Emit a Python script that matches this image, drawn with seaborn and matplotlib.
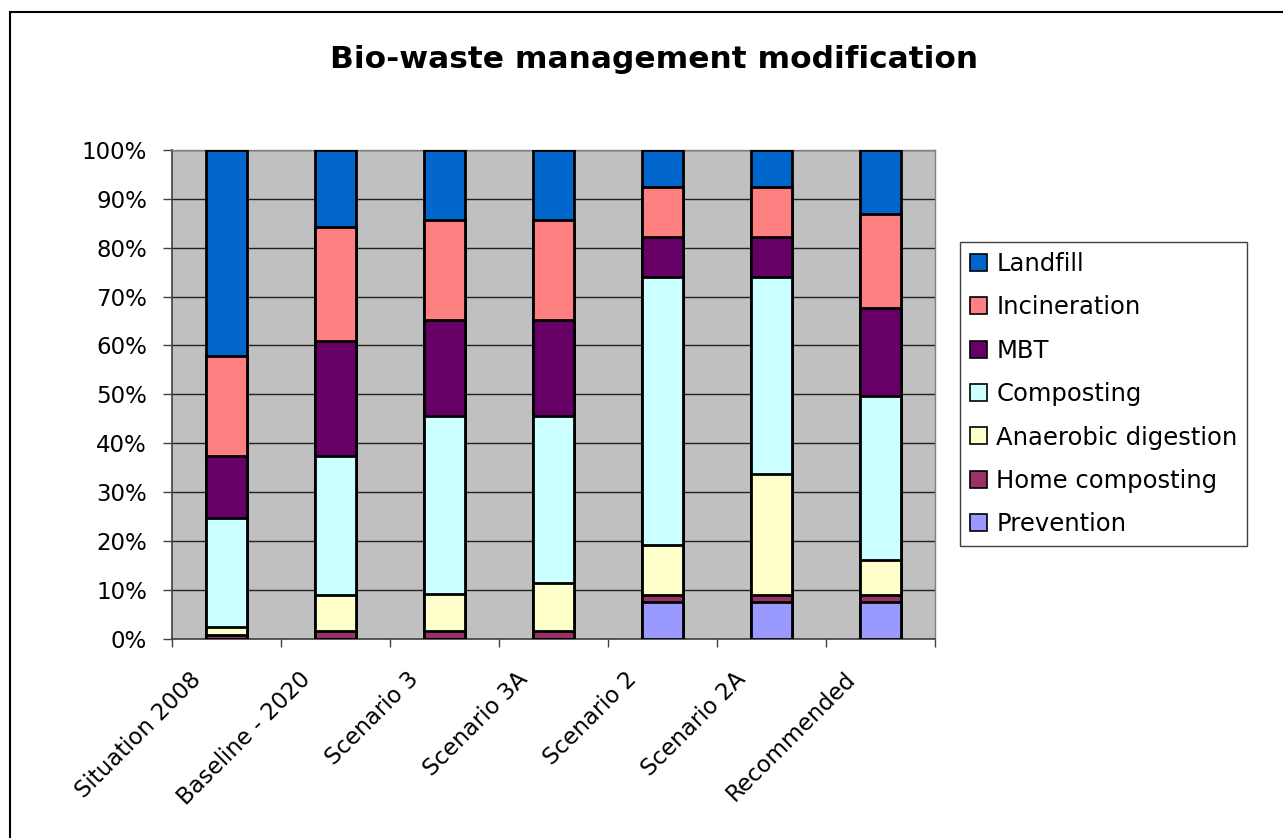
import numpy as np
import pandas as pd
import matplotlib; matplotlib.use('Agg')
import matplotlib.pyplot as plt
import matplotlib.patches as mpatches
from matplotlib.ticker import PercentFormatter
from matplotlib.transforms import ScaledTranslation
import seaborn as sns

sns.set_theme(style='white')
plt.rcParams['font.family'] = ['DejaVu Sans']
plt.rcParams['text.color'] = 'black'
plt.rcParams['xtick.color'] = 'black'
plt.rcParams['ytick.color'] = 'black'

# ── data (share of bio-waste, %) ──────────────────────────────────────
scenarios = ['Situation 2008', 'Baseline - 2020', 'Scenario 3', 'Scenario 3A',
             'Scenario 2', 'Scenario 2A', 'Recommended']
prevention      = [0.0, 0.0, 0.0, 0.0, 7.5, 7.5, 7.5]
home_composting = [0.7, 1.6, 1.6, 1.6, 1.4, 1.4, 1.4]
anaerobic       = [1.7, 7.3, 7.6, 9.8, 10.2, 24.8, 7.2]
composting      = [22.2, 28.5, 36.3, 34.1, 55.0, 40.4, 33.6]
mbt             = [12.8, 23.4, 19.6, 19.6, 8.0, 8.0, 17.9]
incineration    = [20.5, 23.5, 20.5, 20.5, 10.3, 10.3, 19.3]
landfill        = [42.1, 15.7, 14.4, 14.4, 7.6, 7.6, 13.1]

methods = ['Prevention', 'Home composting', 'Anaerobic digestion', 'Composting',
           'MBT', 'Incineration', 'Landfill']   # bottom -> top
series = [prevention, home_composting, anaerobic, composting, mbt, incineration, landfill]
colors = {'Landfill': '#0066CC', 'Incineration': '#FF8080', 'MBT': '#660066',
          'Composting': '#CCFFFF', 'Anaerobic digestion': '#FFFFCC',
          'Home composting': '#993366', 'Prevention': '#9999FF'}

df = pd.DataFrame({m: v for m, v in zip(methods, series)}, index=scenarios)
cum = df.cumsum(axis=1)

# ── figure ────────────────────────────────────────────────────────────
fig = plt.figure(figsize=(12.83, 8.38), dpi=100)
ax = fig.add_axes([172/1283, 1 - 638.5/838, (935-172)/1283, (638.5-150)/838])
ax.set_facecolor('#C0C0C0')

# draw from top layer down so each cumulative bar covers the one beneath
for m in methods[::-1]:
    sns.barplot(x=cum.index, y=cum[m].values, color=colors[m], saturation=1,
                width=0.385, edgecolor='black', linewidth=2, errorbar=None,
                ax=ax, zorder=3)

ax.set_ylim(0, 100)
ax.set_xlim(-0.5, len(scenarios) - 0.5)
ax.set_yticks(np.arange(0, 101, 10))
ax.yaxis.set_major_formatter(PercentFormatter(100, decimals=0))
ax.set_xlabel('')
ax.set_ylabel('')
ax.yaxis.grid(True, color='#202020', lw=1)
ax.xaxis.grid(False)
ax.set_axisbelow(True)

# ticks at category boundaries, labels at centres
ax.set_xticks(np.arange(-0.5, len(scenarios)), labels=[])
ax.set_xticks(np.arange(len(scenarios)), labels=scenarios, minor=True)
ax.tick_params(axis='x', which='major', direction='out', length=6, width=1, color='#404040', bottom=True)
ax.tick_params(axis='x', which='minor', length=0, pad=21, labelsize=16.5)
ax.tick_params(axis='y', direction='out', length=6.5, width=1, color='#404040', left=True,
               pad=11.5, labelsize=16.5)
shift = ScaledTranslation(-0.37, 0, fig.dpi_scale_trans)
for lab in ax.get_xticklabels(minor=True):
    lab.set_rotation(45)
    lab.set_ha('right')
    lab.set_va('top')
    lab.set_rotation_mode('anchor')
    lab.set_transform(lab.get_transform() + shift)

for side in ['left', 'bottom']:
    ax.spines[side].set_color('#404040')
    ax.spines[side].set_linewidth(1.2)
for side in ['top', 'right']:
    ax.spines[side].set_color('#808080')
    ax.spines[side].set_linewidth(1)

fig.text(654/1283, 1 - 60/838, 'Bio-waste management modification',
         ha='center', va='center', fontsize=22.5, fontweight='bold')

handles = [mpatches.Patch(facecolor=colors[m], edgecolor='black', lw=1.2, label=m)
           for m in methods[::-1]]
fig.legend(handles=handles, loc='upper left', bbox_to_anchor=(960/1283, 1 - 242/838),
           frameon=True, fancybox=False, edgecolor='#404040', framealpha=1,
           fontsize=17.5, handlelength=0.7, handleheight=0.7, handletextpad=0.4,
           labelspacing=0.8, borderpad=0.4, borderaxespad=0)

# outer chart border (runs off the right and bottom edges)
fig.patches.append(mpatches.Rectangle((10/1283, -0.1), 1.2, 1 - 12/838 + 0.1,
                                      transform=fig.transFigure, fill=False,
                                      edgecolor='black', lw=1.5))

fig.savefig('out.png', dpi=100)
